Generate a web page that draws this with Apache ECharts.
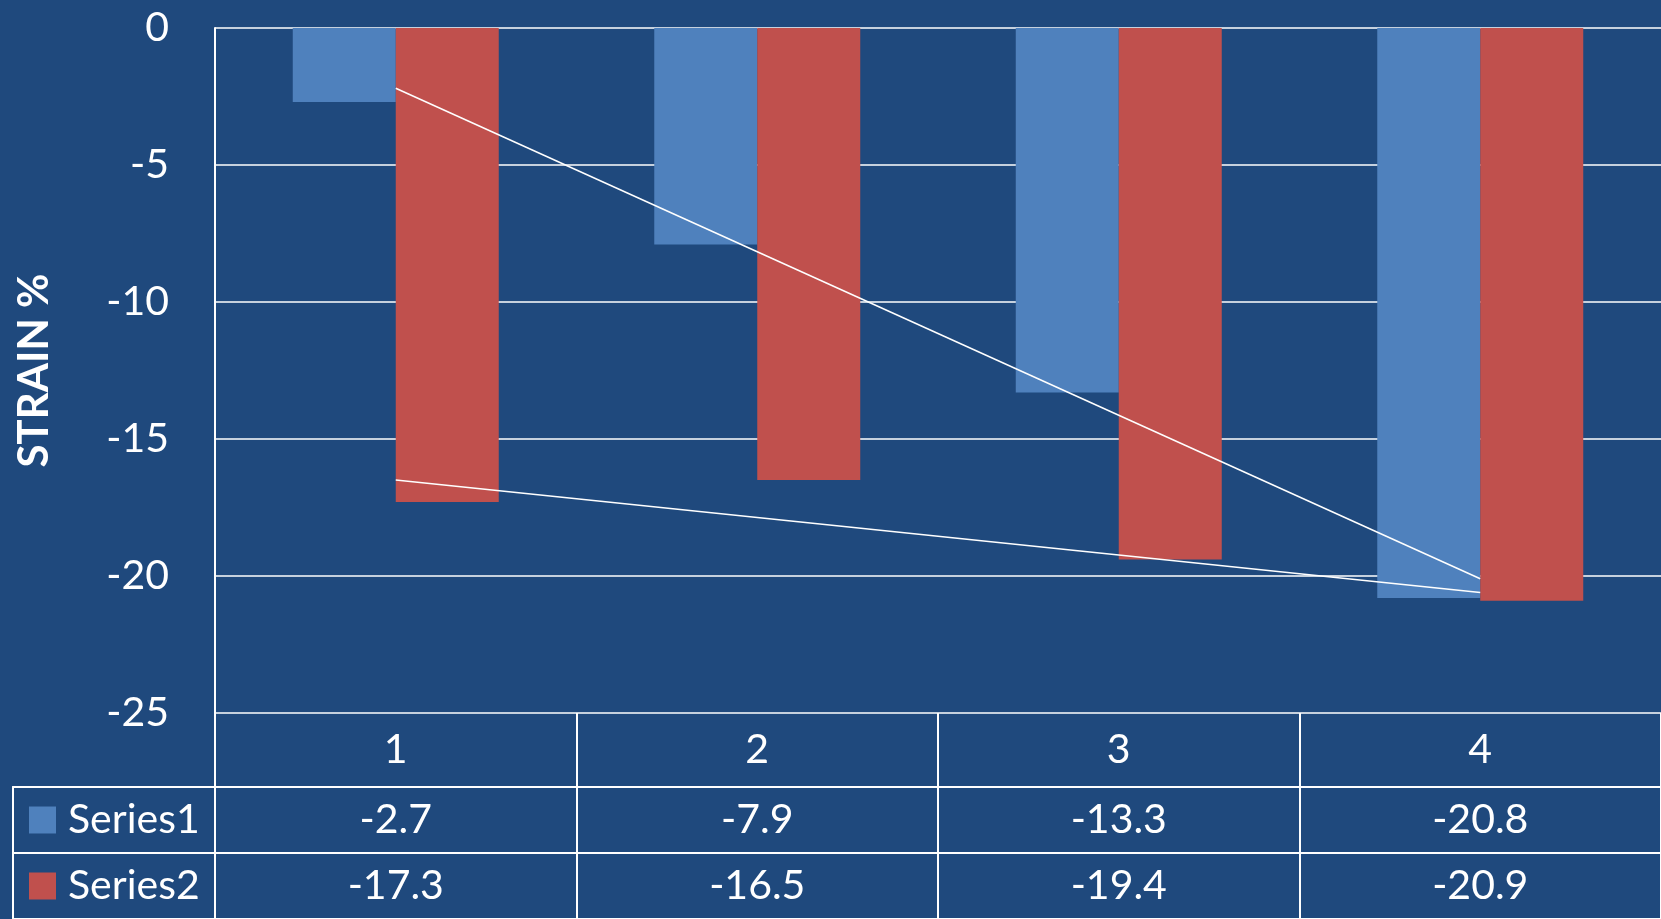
<!DOCTYPE html>
<html>
<head>
<meta charset="utf-8">
<title>Strain %</title>
<script src="https://cdn.jsdelivr.net/npm/echarts@6/dist/echarts.min.js"></script>
<style>
  html, body { margin: 0; padding: 0; background: #1F497D; }
  #chart { width: 1661px; height: 919px; }
</style>
</head>
<body>
<div id="chart"></div>
<script>
let categories = ['1', '2', '3', '4'];
let seriesNames = ['Series1', 'Series2'];
let series1 = [-2.7, -7.9, -13.3, -20.8];
let series2 = [-17.3, -16.5, -19.4, -20.9];
// linear trendlines, ends at categories 1 and 4
let trend1 = [-2.2, -20.1];
let trend2 = [-16.5, -20.6];
let yMin = -25;
let yMax = 0;
let yStep = 5;

let colors = ['#4F81BD', '#C0504D'];
let white = '#FFFFFF';
let fontSize = 41;

let chart = echarts.init(document.getElementById('chart'));

// cells of the data table: [category, row, value]
let cells = [];
[series1, series2].forEach((values, row) => {
  values.forEach((v, i) => {
    cells.push([categories[i], seriesNames[row], v]);
  });
});

let border = {show: true, lineStyle: {color: white, width: 2}};
let off = {show: false};

let option = {
  backgroundColor: '#1F497D',
  animation: false,
  textStyle: {fontFamily: 'Lato'},
  grid: [
    {left: 215, right: 0, top: 28, height: 685},   // plot
    {left: 215, right: 0, top: 713, height: 74},   // header row
    {left: 215, right: 0, top: 787, height: 136},  // value rows
    {left: 13, width: 202, top: 787, height: 136}  // legend keys
  ],
  xAxis: [
    {
      gridIndex: 0, type: 'category', data: categories,
      axisLine: off, axisTick: off, axisLabel: off, splitLine: off
    },
    {
      gridIndex: 1, type: 'category', data: categories, position: 'top',
      axisLine: off, axisTick: off,
      axisLabel: {
        inside: true, margin: 37, verticalAlign: 'middle',
        color: white, fontSize: fontSize
      },
      splitLine: {show: true, interval: 0, lineStyle: {color: white, width: 2}}
    },
    {
      gridIndex: 2, type: 'category', data: categories, position: 'top',
      axisLine: border, axisTick: off, axisLabel: off,
      splitLine: {show: true, interval: 0, lineStyle: {color: white, width: 2}}
    },
    {
      gridIndex: 3, type: 'value', position: 'top',
      axisLine: border, axisTick: off, axisLabel: off, splitLine: off
    }
  ],
  yAxis: [
    {
      gridIndex: 0, type: 'value', min: yMin, max: yMax, interval: yStep,
      axisLine: border, axisTick: off,
      axisLabel: {color: white, fontSize: fontSize, margin: 46},
      splitLine: {show: true, lineStyle: {color: white, width: 1.5}},
      name: 'STRAIN %',
      nameLocation: 'middle',
      nameRotate: 90,
      nameGap: 160,
      nameTextStyle: {color: white, fontSize: 42, fontWeight: 'bold'}
    },
    {
      gridIndex: 1, type: 'value',
      axisLine: border, axisTick: off, axisLabel: off, splitLine: off
    },
    {
      gridIndex: 2, type: 'category', data: seriesNames, inverse: true,
      axisLine: border, axisTick: off, axisLabel: off,
      splitLine: {show: true, interval: 0, lineStyle: {color: white, width: 2}}
    },
    {
      gridIndex: 3, type: 'category', data: seriesNames, inverse: true,
      axisLine: border, axisTick: off,
      axisLabel: {
        inside: true, margin: 16, color: white, fontSize: fontSize,
        formatter: (v, i) => '{box' + i + '|}{name|' + v + '}',
        rich: {
          box0: {width: 27, height: 27, backgroundColor: colors[0]},
          box1: {width: 27, height: 27, backgroundColor: colors[1]},
          name: {color: white, fontSize: fontSize, padding: [0, 0, 0, 12]}
        }
      },
      splitLine: {show: true, interval: 0, lineStyle: {color: white, width: 2}}
    }
  ],
  series: [
    {
      name: seriesNames[0], type: 'bar', data: series1,
      xAxisIndex: 0, yAxisIndex: 0,
      barWidth: 103, barGap: '0%',
      itemStyle: {color: colors[0]}
    },
    {
      name: seriesNames[1], type: 'bar', data: series2,
      xAxisIndex: 0, yAxisIndex: 0,
      barWidth: 103, barGap: '0%',
      itemStyle: {color: colors[1]}
    },
    {
      type: 'line', xAxisIndex: 0, yAxisIndex: 0, z: 5, silent: true,
      data: [[categories[0], trend1[0]], [categories[3], trend1[1]]],
      symbol: 'none', lineStyle: {color: white, width: 1.5}
    },
    {
      type: 'line', xAxisIndex: 0, yAxisIndex: 0, z: 5, silent: true,
      data: [[categories[0], trend2[0]], [categories[3], trend2[1]]],
      symbol: 'none', lineStyle: {color: white, width: 1.5}
    },
    {
      type: 'scatter', xAxisIndex: 2, yAxisIndex: 2, silent: true,
      data: cells, symbolSize: 1, itemStyle: {color: 'rgba(0,0,0,0)'},
      label: {
        show: true, position: 'inside', color: white, fontSize: fontSize,
        opacity: 1, textBorderWidth: 0, textShadowBlur: 0,
        formatter: p => String(p.value[2])
      }
    }
  ]
};

chart.setOption(option);
</script>
</body>
</html>
